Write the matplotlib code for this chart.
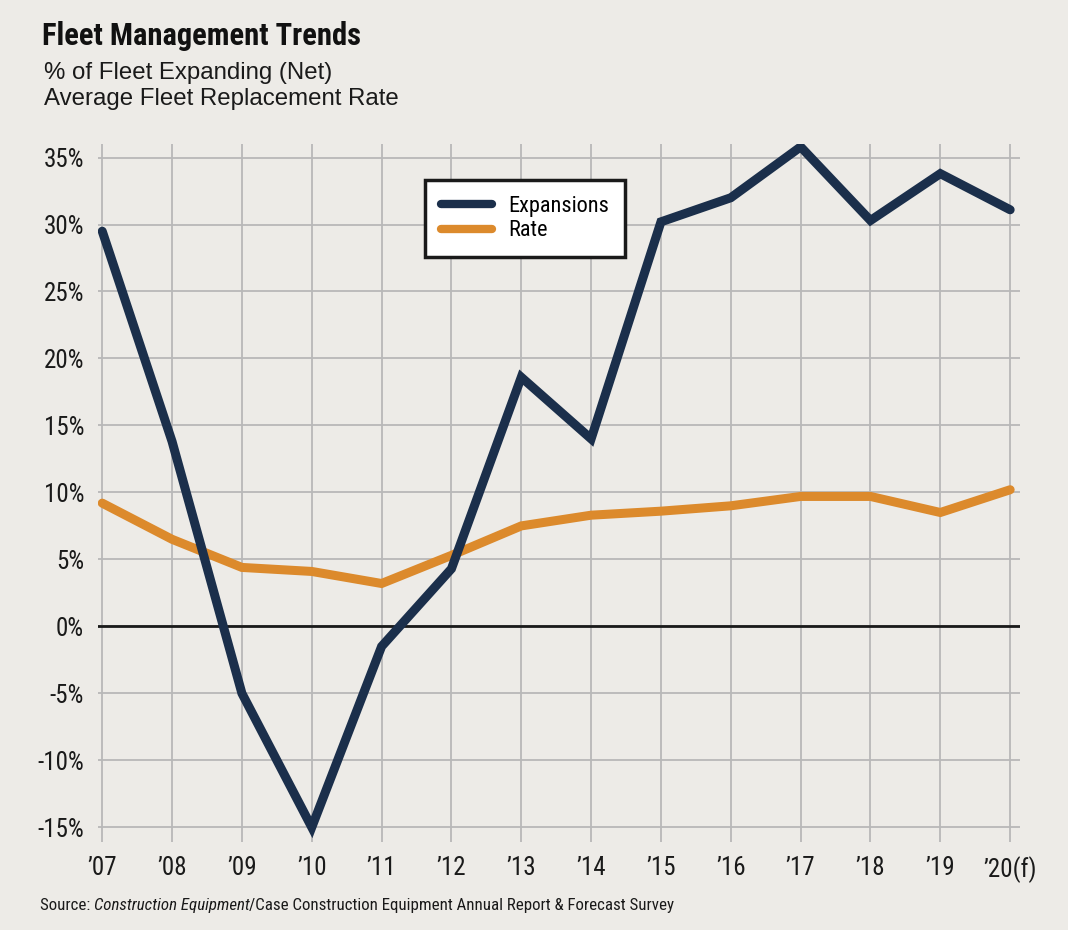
import matplotlib.pyplot as plt
from matplotlib import font_manager

years = ["\u201907", "\u201908", "\u201909", "\u201910", "\u201911", "\u201912", "\u201913",
         "\u201914", "\u201915", "\u201916", "\u201917", "\u201918", "\u201919", "\u201920(f)"]
expansions = [29.5, 13.8, -5.0, -15.0, -1.5, 4.3, 18.6, 14.0, 30.2, 32.0, 35.8, 30.3, 33.8, 31.1]
rate = [9.2, 6.5, 4.4, 4.1, 3.2, 5.3, 7.5, 8.3, 8.6, 9.0, 9.7, 9.7, 8.5, 10.2]
y_ticks = [35, 30, 25, 20, 15, 10, 5, 0, -5, -10, -15]

# condensed face for the labels (falls back to plain Roboto)
names = {f.name for f in font_manager.fontManager.ttflist}
narrow = "Roboto Condensed" if "Roboto Condensed" in names else "Roboto"

bg = "#edebe7"
navy = "#1b2f4b"
orange = "#dc8a2c"
ink = "#1a1a1a"

fig = plt.figure(figsize=(10.68, 9.3), dpi=100, facecolor=bg)
ax = fig.add_axes([0.0918, 0.0946, 0.8632, 0.7504], facecolor=bg)

x = list(range(len(years)))
ax.plot(x, expansions, color=navy, lw=6.5, solid_capstyle="round", solid_joinstyle="miter",
        label="Expansions", zorder=4)
ax.plot(x, rate, color=orange, lw=6.5, solid_capstyle="round", solid_joinstyle="miter",
        label="Rate", zorder=3)
ax.axhline(0, color=ink, lw=2, zorder=2)

ax.set_xlim(-0.06, 13.14)
ax.set_ylim(-16.1, 36)
ax.set_xticks(x)
ax.set_xticklabels(years)
ax.set_yticks(y_ticks)
ax.set_yticklabels([f"{v}%" for v in y_ticks])
ax.grid(True, color="#b8b8b8", lw=1.3, zorder=1)
ax.tick_params(length=0, labelsize=18, colors=ink)
ax.tick_params(axis="x", pad=10)
ax.tick_params(axis="y", pad=10)
for lab in ax.get_xticklabels() + ax.get_yticklabels():
    lab.set_fontfamily(narrow)
for s in ax.spines.values():
    s.set_visible(False)

leg = ax.legend(loc="upper left", bbox_to_anchor=(0.355, 0.948), borderaxespad=0, frameon=True,
                fancybox=False, prop={"family": narrow, "size": 16}, handlelength=2.3,
                borderpad=0.7, labelspacing=0.15, handletextpad=0.75)
leg.get_frame().set_edgecolor(ink)
leg.get_frame().set_linewidth(2.5)
leg.get_frame().set_facecolor("white")
leg.get_frame().set_alpha(1)
for h in leg.get_lines():
    h.set_linewidth(6)

fig.text(0.039, 0.952, "Fleet Management Trends", fontsize=22, fontweight="bold", family=narrow, color="#111111")
fig.text(0.041, 0.915, "% of Fleet Expanding (Net)", fontsize=17.3, family="Liberation Sans", color=ink)
fig.text(0.041, 0.887, "Average Fleet Replacement Rate", fontsize=17.3, family="Liberation Sans", color=ink)

src_y = 0.022
t1 = fig.text(0.037, src_y, "Source: ", fontsize=12.2, family=narrow, color=ink)
fig.canvas.draw()
r = fig.canvas.get_renderer()
bb = t1.get_window_extent(r)
t2 = fig.text(bb.x1 / fig.bbox.width, src_y, "Construction Equipment", fontsize=12.2, family=narrow,
              style="italic", color=ink)
bb = t2.get_window_extent(r)
fig.text(bb.x1 / fig.bbox.width, src_y, "/Case Construction Equipment Annual Report & Forecast Survey",
         fontsize=12.2, family=narrow, color=ink)

fig.savefig("out.png", dpi=100, facecolor=bg)
